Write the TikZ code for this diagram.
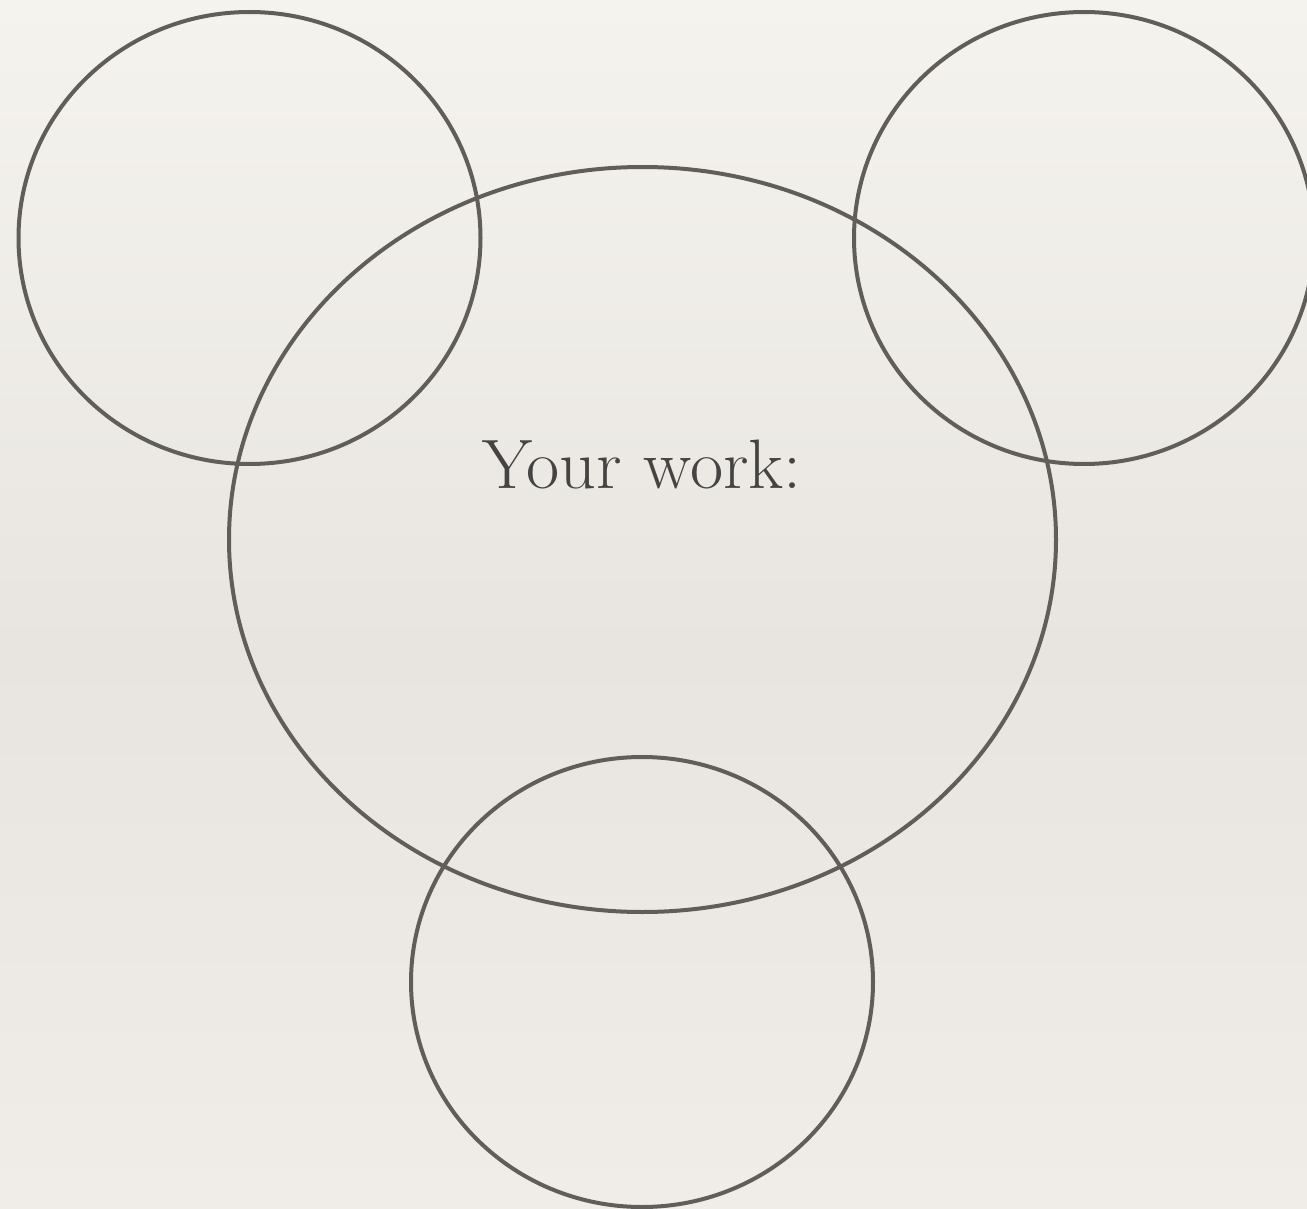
\documentclass[tikz,border=0pt]{standalone}
\usepackage{fontspec}
\definecolor{ringc}{HTML}{615E5A}
\definecolor{textc}{HTML}{454442}
\definecolor{bgtop}{HTML}{F5F3EE}
\definecolor{bgmid}{HTML}{E8E5E0}
\definecolor{bgbot}{HTML}{F0EDE8}
\begin{document}
\begin{tikzpicture}[x=1pt,y=-1pt,
  ring/.style={draw=ringc,line width=4pt}]
\useasboundingbox (0,0) rectangle (1307,1209);
\shade[top color=bgtop,bottom color=bgmid] (0,0) rectangle (1307,650);
\shade[top color=bgmid,bottom color=bgbot] (0,649) rectangle (1307,1209);
\draw[ring] (642.5,539.5) ellipse [x radius=413.5, y radius=372.5];
\draw[ring] (249.5,238) ellipse [x radius=231, y radius=226];
\draw[ring] (1084,238) ellipse [x radius=230, y radius=226];
\draw[ring] (642,982) ellipse [x radius=231, y radius=225];
\node[text=textc,font=\fontsize{70}{82}\selectfont,anchor=base,xscale=1.03] (title) at (642,488) {Your work:};
\end{tikzpicture}
\end{document}
